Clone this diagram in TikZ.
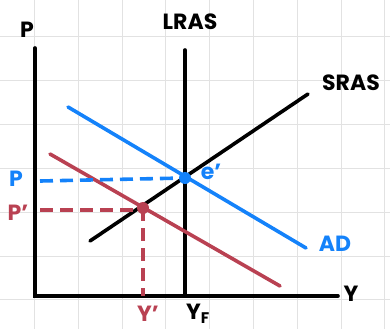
\documentclass[tikz,border=0pt]{standalone}
\usepackage{fontspec}
\setmainfont{Poppins}
\definecolor{adblue}{RGB}{20,130,250}
\definecolor{adred}{RGB}{185,65,82}
\definecolor{gridgray}{RGB}{226,226,226}
\tikzset{
    curve/.style={line width=3.6pt, line cap=round},
    dashline/.style={line width=3.6pt, dash pattern=on 13pt off 7pt},
    lbl/.style={font=\fontsize{22}{24}\selectfont\bfseries, inner sep=0pt}
}
\begin{document}
\begin{tikzpicture}[x=1pt, y=-1pt]
    \useasboundingbox (0,0) rectangle (390,329);

    % grid
    \foreach \i in {0,...,8}
        \draw[gridgray, line width=1pt] (34.5+43.8*\i,0) -- (34.5+43.8*\i,329);
    \foreach \j in {0,...,6}
        \draw[gridgray, line width=1pt] (0,37+43.8*\j) -- (390,37+43.8*\j);

    \coordinate (origin) at (35,296);
    \coordinate (ptop) at (35,48);
    \coordinate (yend) at (338,296);
    \coordinate (lrastop) at (185,50);
    \coordinate (lrasbot) at (185,296);
    \coordinate (srasa) at (90,241);
    \coordinate (srasb) at (308,94);
    \coordinate (ada) at (68,107);
    \coordinate (adb) at (306,248);
    \coordinate (adra) at (50,154);
    \coordinate (adrb) at (280,286);
    \coordinate (e) at (185,178);
    \coordinate (eb) at (143,208);
    \coordinate (pstart) at (40,181);
    \coordinate (prstart) at (40,210);

    % axes
    \draw[curve] (ptop) -- (origin) -- (yend);
    \draw[curve] (lrastop) -- (lrasbot);

    % curves
    \draw[curve] (srasa) -- (srasb);
    \draw[curve, adblue] (ada) -- (adb);
    \draw[curve, adred] (adra) -- (adrb);

    % equilibrium lines
    \draw[dashline, adblue] (pstart) -- (e);
    \draw[dashline, adred] (prstart) -- (eb |- prstart) -- (eb);
    \draw[dashline, adred] (eb) -- (eb |- origin);
    \fill[adblue] (e) circle (6pt);
    \fill[adred] (eb) circle (6pt);

    % labels
    \node[lbl] (plab) at (27,30) {P};
    \node[lbl] (ylab) at (351,294) {Y};
    \node[lbl] (lraslab) at (190,22) {LRAS};
    \node[lbl] (sraslab) at (351,83) {SRAS};
    \node[lbl, adblue] (adlab) at (335,244) {AD};
    \node[lbl, adblue] (elab) at (211,172) {e'};
    \node[lbl, adblue] (p0lab) at (16,179) {P};
    \node[lbl, adred] (p1lab) at (18,213) {P'};
    \node[lbl, adred] (y1lab) at (148,314) {Y'};
    \node[lbl] (yflab) at (198,314) {Y\textsubscript{F}};
\end{tikzpicture}
\end{document}
